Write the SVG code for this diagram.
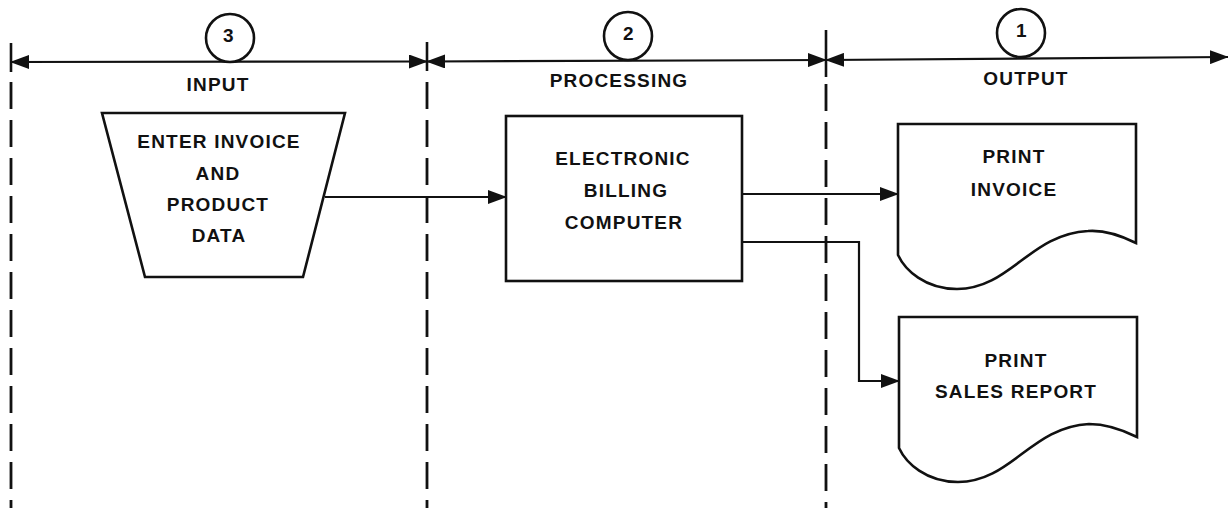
<svg xmlns="http://www.w3.org/2000/svg" width="1228" height="508" viewBox="0 0 1228 508">
<style>
.t{font-family:"Liberation Sans",Arial,sans-serif;font-weight:bold;font-size:19px;letter-spacing:1.2px;fill:#111;text-anchor:middle}
.s{fill:#fff;stroke:#111;stroke-width:2.6}
.c{fill:none;stroke:#111;stroke-width:2.2}
.d{fill:none;stroke:#111;stroke-width:2.8;stroke-dasharray:27 11}
.k{stroke:#111;stroke-width:2.6}
</style>
<defs>
<marker id="ah" markerUnits="userSpaceOnUse" markerWidth="19" markerHeight="14" refX="18" refY="7" orient="auto-start-reverse">
<path d="M0,0 L19,7 L0,14 Z" fill="#111"/>
</marker>
</defs>
<rect width="1228" height="508" fill="#fff"/>
<g id="swimlanes">
<line class="d" x1="11" y1="82" x2="11" y2="508"/>
<line class="d" x1="427" y1="82" x2="427" y2="508"/>
<line class="d" x1="826" y1="84" x2="826" y2="508"/>
<line class="k" x1="11" y1="43" x2="11" y2="72"/>
<line class="k" x1="427" y1="42" x2="427" y2="71"/>
<line class="k" x1="826" y1="30" x2="826" y2="77"/>
<line class="c" x1="11" y1="62" x2="427" y2="61.5" marker-start="url(#ah)" marker-end="url(#ah)"/>
<line class="c" x1="427" y1="61.5" x2="826" y2="60" marker-start="url(#ah)" marker-end="url(#ah)"/>
<line class="c" x1="826" y1="60" x2="1228" y2="57" marker-start="url(#ah)" marker-end="url(#ah)"/>
</g>
<g id="lane-input">
<circle class="s" cx="230" cy="38" r="24"/>
<text class="t" x="229" y="42">3</text>
<text class="t" x="218" y="91">INPUT</text>
</g>
<g id="lane-processing">
<circle class="s" cx="628" cy="36" r="24"/>
<text class="t" x="629" y="40">2</text>
<text class="t" x="619" y="87">PROCESSING</text>
</g>
<g id="lane-output">
<circle class="s" cx="1021" cy="33" r="24"/>
<text class="t" x="1022" y="37">1</text>
<text class="t" x="1026" y="85">OUTPUT</text>
</g>
<g id="connectors">
<path class="c" d="M325,197 H506" marker-end="url(#ah)"/>
<path class="c" d="M742,194 H898" marker-end="url(#ah)"/>
<path class="c" d="M742,242 H859 V381 H899" marker-end="url(#ah)"/>
</g>
<g id="enter-data">
<polygon class="s" points="102,113 345,113 303,277 145,277"/>
<text class="t" x="219" y="148">ENTER INVOICE</text>
<text class="t" x="218" y="180">AND</text>
<text class="t" x="218" y="211">PRODUCT</text>
<text class="t" x="219" y="242">DATA</text>
</g>
<g id="billing-computer">
<rect class="s" x="506" y="116" width="236" height="165"/>
<text class="t" x="623" y="165">ELECTRONIC</text>
<text class="t" x="626" y="197">BILLING</text>
<text class="t" x="624" y="229">COMPUTER</text>
</g>
<g id="print-invoice">
<path class="s" d="M898,124 H1136 V243 C1116,233 1101,230 1088,231 C1030,234 1010,289 957,289 C925,289 905,270 898,255 Z"/>
<text class="t" x="1014" y="163">PRINT</text>
<text class="t" x="1014" y="196">INVOICE</text>
</g>
<g id="print-sales-report">
<path class="s" d="M899,317 H1137 V437 C1117,427 1102,424 1089,424 C1031,427 1011,482 958,482 C926,482 906,463 899,448 Z"/>
<text class="t" x="1016" y="367">PRINT</text>
<text class="t" x="1016" y="398">SALES REPORT</text>
</g>
</svg>
